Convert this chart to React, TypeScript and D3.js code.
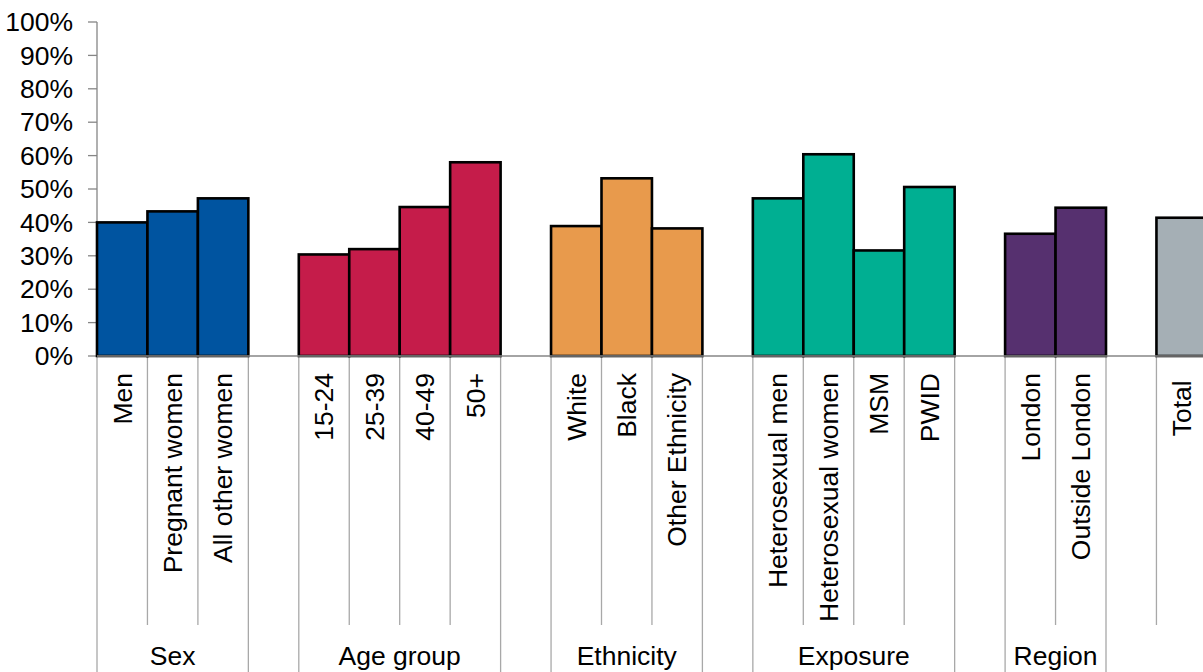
import React from "react";
import * as d3 from "d3";

const categories = ["Men","Pregnant women","All other women","15-24","25-39","40-49","50+","White","Black","Other Ethnicity","Heterosexual men","Heterosexual women","MSM","PWID","London","Outside London","Total "];
const values = [40.0,43.3,47.2,30.4,32.0,44.6,58.0,38.9,53.2,38.2,47.2,60.4,31.6,50.6,36.6,44.4,41.4];
const groupNames = ["Sex","Age group","Ethnicity","Exposure","Region",""];
const groupSizes = [3,4,3,4,2,1];
const groupColors = ["#0054A0","#C51C4A","#E89A4C","#00AF92","#56306F","#A5AFB5"];
const yTicks = [0,10,20,30,40,50,60,70,80,90,100];

const W = 1203, H = 672;
const FONT = "'Liberation Sans', Arial, sans-serif";
const FS = 26.5;

export default function App() {
  const totalSlots = groupSizes.reduce((a, b) => a + b, 0) + groupSizes.length - 1;
  const slotW = 50.45;
  const x0 = 97;
  const x = d3.scaleBand<number>().domain(d3.range(totalSlots)).range([x0, x0 + totalSlots * slotW]).paddingInner(0).paddingOuter(0);
  const y = d3.scaleLinear().domain([0, 100]).range([356, 22]);

  const items: { cat: string; v: number; slot: number; g: number }[] = [];
  const groupsInfo: { name: string; start: number; end: number; g: number }[] = [];
  let ci = 0, slot = 0;
  groupSizes.forEach((n, g) => {
    const start = slot;
    for (let k = 0; k < n; k++) {
      items.push({ cat: categories[ci], v: values[ci], slot, g });
      ci++; slot++;
    }
    groupsInfo.push({ name: groupNames[g], start, end: slot, g });
    slot++;
  });

  const bw = x.bandwidth();
  const innerBottom = 625;
  const lineColor = "#a8a8a8";

  return (
    <svg width={W} height={H} style={{ position: "absolute", left: 0, top: 0 }} fontFamily={FONT}>
      <rect x={0} y={0} width={W} height={H} fill="#fff" />
      <line x1={x0} x2={x0} y1={y(100)} y2={y(0)} stroke="#868686" strokeWidth={1.3} />
      {yTicks.map((t) => (
        <g key={t}>
          <line x1={x0 - 9} x2={x0} y1={y(t)} y2={y(t)} stroke="#868686" strokeWidth={1.3} />
          <text x={73} y={y(t)} dy="0.35em" textAnchor="end" fontSize={FS} fill="#000">{t + "%"}</text>
        </g>
      ))}
      {groupsInfo.map((gi) => {
        const lines = [];
        const bottomEdge = gi.name ? H : innerBottom;
        lines.push(<line key={"l" + gi.g} x1={x(gi.start)!} x2={x(gi.start)!} y1={y(0)} y2={bottomEdge} stroke={lineColor} strokeWidth={1.3} />);
        lines.push(<line key={"r" + gi.g} x1={x(gi.end - 1)! + bw} x2={x(gi.end - 1)! + bw} y1={y(0)} y2={bottomEdge} stroke={lineColor} strokeWidth={1.3} />);
        for (let s = gi.start + 1; s < gi.end; s++) {
          lines.push(<line key={"i" + s} x1={x(s)!} x2={x(s)!} y1={y(0)} y2={innerBottom} stroke={lineColor} strokeWidth={1.3} />);
        }
        return <g key={gi.g}>{lines}</g>;
      })}
      {items.map((it) => (
        <rect key={it.cat} x={x(it.slot)!} y={y(it.v)} width={bw} height={y(0) - y(it.v)} fill={groupColors[it.g]} stroke="#000" strokeWidth={2.6} />
      ))}
      <line x1={x0} x2={W} y1={y(0)} y2={y(0)} stroke="#868686" strokeWidth={1.3} />
      {items.map((it) => {
        const cx = x(it.slot)! + bw / 2;
        return (
          <text key={"t" + it.cat} transform={`translate(${cx},373) rotate(-90)`} dy="0.35em" textAnchor="end" fontSize={FS} fill="#000" style={{ whiteSpace: "pre" }}>{it.cat}</text>
        );
      })}
      {groupsInfo.filter((g) => g.name).map((gi) => {
        const cx = (x(gi.start)! + x(gi.end - 1)! + bw) / 2;
        return <text key={"g" + gi.g} x={cx} y={665} textAnchor="middle" fontSize={FS} fill="#000">{gi.name}</text>;
      })}
    </svg>
  );
}
